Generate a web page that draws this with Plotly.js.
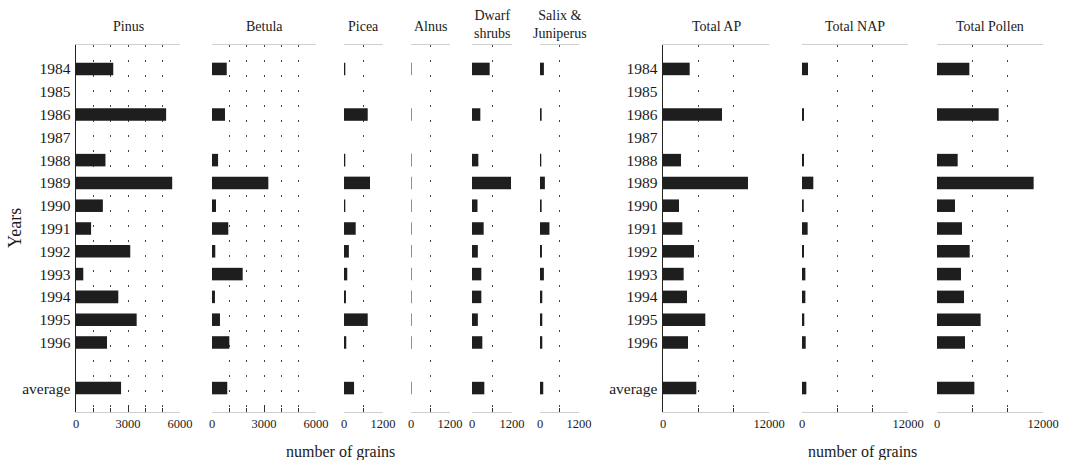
<!DOCTYPE html>
<html><head><meta charset="utf-8">
<script src="https://cdn.plot.ly/plotly-3.0.1.min.js"></script>
<style>html,body{margin:0;padding:0;background:#fff}</style>
</head><body><div id="chart" style="width:1068px;height:460px"></div>
<script>
// Row labels (a blank spacer row sits between 1996 and the average)
const rows = ['1984','1985','1986','1987','1988','1989','1990','1991','1992','1993','1994','1995','1996',' ','average'];

// Number of grains per taxon (null = no data / spacer)
const pinus    = [2150,null,5200,null,1700,5550,1550,870,3130,420,2440,3500,1790,null,2600];
const betula   = [850,null,750,null,350,3250,230,940,190,1770,170,460,1000,null,880];
const picea    = [40,null,730,null,40,800,40,360,150,100,60,730,70,null,310];
const alnus    = [15,null,15,null,15,15,15,15,15,15,15,15,15,null,15];
const dwarf    = [530,null,250,null,190,1170,165,350,175,280,280,175,310,null,370];
const salix    = [120,null,50,null,40,150,50,290,60,120,70,70,70,null,100];
const totalAP  = [3020,null,6680,null,2040,9620,1810,2190,3510,2340,2720,4790,2830,null,3770];
const totalNAP = [680,null,230,null,230,1280,200,640,230,380,380,260,420,null,490];
const totalPollen = [3660,null,6980,null,2340,10940,2040,2830,3700,2720,3060,4940,3170,null,4230];

// Panel titles and tick labels
const titles = ['Pinus','Betula','Picea','Alnus','Dwarf<br>shrubs','Salix &<br>Juniperus','Total AP','Total NAP','Total Pollen'];
const ticksBig   = [0,3000,6000];
const ticksSmall = [0,1200];
const ticksTotal = [0,12000];

const series = [pinus,betula,picea,alnus,dwarf,salix,totalAP,totalNAP,totalPollen];
const panelTicks = [ticksBig,ticksBig,ticksSmall,ticksSmall,ticksSmall,ticksSmall,ticksTotal,ticksTotal,ticksTotal];

// Layout geometry (pixels)
const W = 1068, H = 460;
const px = [[76,180],[212,316],[344,383],[411,450],[472,512],[540,579],[663,769],[802,908],[937,1043]];
const minorStep = [1000,1000,600,600,600,600,4000,4000,4000];
const serif = 'Liberation Serif';
const dotDash = '2px,13px';

const traces = [];
const layout = {
  width: W, height: H,
  margin: {l:0,r:0,t:0,b:0},
  paper_bgcolor:'#fff', plot_bgcolor:'rgba(0,0,0,0)',
  showlegend:false, bargap:0.45,
  font:{family:serif, color:'#222'},
  annotations: []
};

const yDomain = [1-412/H, 1-45/H];
const yCommon = {
  domain: yDomain, type:'category', categoryorder:'array', categoryarray: rows,
  range:[rows.length-1+1.05, -1.05], autorange:false,
  showgrid:false, zeroline:false, showline:true, linecolor:'#222', linewidth:1.5,
  ticks:'', tickfont:{family:serif,size:15.5,color:'#1a1a1a'}, ticklabelstandoff:1, fixedrange:true
};
layout.yaxis  = Object.assign({}, yCommon, {anchor:'x'});
layout.yaxis2 = Object.assign({}, yCommon, {anchor:'x7'});

series.forEach((vals,i)=>{
  const n = i===0 ? '' : String(i+1);
  const tv = panelTicks[i];
  const rngMax = tv[tv.length-1];
  layout['xaxis'+n] = {
    domain:[px[i][0]/W, px[i][1]/W],
    anchor: i<6 ? 'y' : 'y2',
    range:[0, rngMax], autorange:false, fixedrange:true,
    tickmode:'array', tickvals: tv, ticktext: tv.map(String),
    tickfont:{family:serif,size:12.5,color:'#1a1a1a'},
    ticks:'inside', ticklen:7, tickcolor:'#333', tickwidth:1,
    showgrid:true, gridcolor:'#444', gridwidth:1, griddash:dotDash,
    minor:{dtick:minorStep[i], tick0:0, ticks:'inside', ticklen:4, tickcolor:'#333',
           showgrid:true, gridcolor:'#444', gridwidth:1, griddash:dotDash},
    zeroline:false, showline:true, mirror:true, linecolor:'#d0d0d0', linewidth:1
  };
  traces.push({
    type:'bar', orientation:'h', x: vals, y: rows,
    xaxis:'x'+n, yaxis: i<6 ? 'y' : 'y2',
    marker:{color:'#1e1e1e', line:{width:0}},
    hoverinfo:'skip', cliponaxis:false
  });
  layout.annotations.push({
    text: titles[i], xref:'x'+n+' domain', x:0.5, yref:'paper',
    y: titles[i].includes('<br>') ? 1-24/H : 1-27/H,
    xanchor:'center', yanchor:'middle', showarrow:false,
    font:{family:serif,size:14,color:'#1a1a1a'}
  });
});

layout.annotations.push({text:'Years', xref:'paper', yref:'paper', x:15/W, y:1-228/H,
  textangle:-90, showarrow:false, xanchor:'center', yanchor:'middle', font:{family:serif,size:18,color:'#1a1a1a'}});
layout.annotations.push({text:'number of grains', xref:'paper', yref:'paper', x:340/W, y:1-452/H,
  showarrow:false, xanchor:'center', yanchor:'middle', font:{family:serif,size:16,color:'#1a1a1a'}});
layout.annotations.push({text:'number of grains', xref:'paper', yref:'paper', x:862/W, y:1-452/H,
  showarrow:false, xanchor:'center', yanchor:'middle', font:{family:serif,size:16,color:'#1a1a1a'}});

Plotly.newPlot('chart', traces, layout, {displayModeBar:false, staticPlot:true});
</script></body></html>
